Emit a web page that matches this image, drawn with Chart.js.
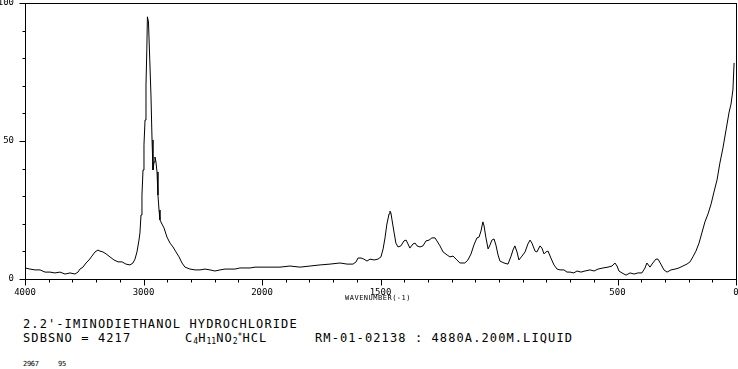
<!DOCTYPE html>
<html>
<head>
<meta charset="utf-8">
<script src="https://cdn.jsdelivr.net/npm/chart.js@4.4.0/dist/chart.umd.min.js"></script>
<style>
  body { margin: 0; background: #fff; }
  #wrap { position: relative; width: 738px; height: 369px; overflow: hidden; background: #fff; }
  #spectrum { position: absolute; left: 0; top: 0; }
  .cap { position: absolute; font-family: 'DejaVu Sans Mono', monospace; font-size: 12px; letter-spacing: 1.1px; color: #000; white-space: pre; line-height: 1; }
  .cap sub { font-size: 8px; letter-spacing: 0; vertical-align: -2px; line-height: 0; }
  .cap sup { font-size: 8px; letter-spacing: 0; vertical-align: 3px; line-height: 0; }
  .small { position: absolute; font-family: 'DejaVu Sans Mono', monospace; font-size: 7px; letter-spacing: -0.3px; color: #000; white-space: pre; line-height: 1; }
  .axis-title { position: absolute; font-family: 'DejaVu Sans Mono', monospace; font-size: 7px; letter-spacing: 0.5px; color: #000; white-space: pre; line-height: 1; transform: translateX(-50%); }
</style>
</head>
<body>
<div id="wrap">
  <canvas id="spectrum" width="738" height="310"></canvas>
  <div class="axis-title" style="left:378px; top:295px;">WAVENUMBER(-1)</div>
  <div class="cap" style="left:23px; top:318px;">2.2'-IMINODIETHANOL HYDROCHLORIDE</div>
  <div class="cap" style="left:23px; top:332px;">SDBSNO = 4217</div>
  <div class="cap" style="left:185px; top:332px;">C<sub>4</sub>H<sub>11</sub>NO<sub>2</sub><sup>*</sup>HCL</div>
  <div class="cap" style="left:315px; top:332px;">RM-01-02138 : 4880A.200M.LIQUID</div>
  <div class="small" style="left:23px; top:361px;">2967</div>
  <div class="small" style="left:58px; top:361px;">95</div>
</div>
<script>
// spectrum (wavenumber cm-1, intensity %)
const wavenumbers = [
  4000, 3958, 3916, 3873, 3831, 3789, 3747, 3705, 3662, 3620, 3578, 3553, 3536, 3511, 3485, 3460,
  3435, 3409, 3384, 3367, 3342, 3316, 3283, 3249, 3215, 3181, 3148, 3114, 3089, 3072, 3055, 3038,
  3030, 3021, 3013, 3004, 2996, 2987, 2979, 2972, 2967, 2958, 2947, 2937, 2928, 2920, 2911, 2903,
  2895, 2886, 2878, 2869, 2861, 2844, 2827, 2802, 2776, 2751, 2726, 2700, 2675, 2650, 2608, 2565,
  2523, 2481, 2439, 2397, 2354, 2312, 2270, 2228, 2186, 2143, 2101, 2059, 2000,
  1966, 1924, 1882, 1840, 1797, 1755, 1713, 1671, 1641, 1616, 1603, 1595, 1582, 1570, 1557, 1544,
  1527, 1511, 1498, 1489, 1481, 1473, 1464, 1460, 1456, 1452, 1443, 1435, 1426, 1414, 1401, 1392,
  1384, 1376, 1363, 1354, 1346, 1333, 1321, 1308, 1295, 1283, 1270, 1262, 1249, 1236, 1219, 1207,
  1194, 1181, 1165, 1144, 1131, 1118, 1106, 1093, 1084, 1076, 1068, 1063, 1055, 1046, 1038, 1030,
  1021, 1013, 1004, 996, 979, 962, 949, 941, 933, 924, 916, 903, 890, 878, 869, 861,
  848, 840, 827, 819, 810, 802, 793, 781, 768, 755, 743, 726, 713, 700, 684, 671,
  654, 637, 616, 599, 582, 561, 540, 523, 511, 502, 494, 481, 464, 447, 430, 414,
  397, 384, 376, 363, 351, 338, 329, 317, 304, 291, 274, 257, 241, 224, 207, 194,
  182, 169, 156, 143, 131, 118, 105, 93, 80, 68, 55, 42, 29, 21, 13, 8
];
const intensity = [
  4.0, 3.6, 3.3, 3.3, 2.5, 2.5, 2.2, 2.5, 1.8, 2.2, 1.8, 2.5, 3.6, 4.3, 5.8, 6.9,
  8.3, 9.8, 10.5, 10.1, 9.8, 9.1, 8.0, 6.9, 6.2, 6.2, 5.4, 5.1, 5.8, 7.2, 9.8, 14.1,
  16.7, 23.2, 30.4, 39.5, 48.6, 57.6, 70.3, 83.0, 95.0, 93.1, 79.3, 66.7, 50.4, 39.5, 42.4, 44.2,
  42.4, 38.8, 30.4, 25.0, 21.4, 19.9, 18.5, 15.2, 13.0, 11.6, 9.8, 8.0, 5.8, 4.3, 3.6, 3.3,
  3.3, 3.6, 3.3, 2.9, 3.3, 3.6, 3.6, 3.6, 4.0, 4.0, 4.0, 4.3, 4.3,
  4.3, 4.3, 4.7, 4.3, 4.7, 5.1, 5.4, 5.8, 5.4, 5.4, 6.2, 7.6, 7.6, 7.2, 6.5, 7.2,
  6.9, 7.2, 8.0, 10.9, 14.9, 19.9, 23.6, 24.6, 23.9, 21.7, 17.0, 13.0, 11.6, 12.0, 13.8, 14.1,
  12.7, 11.2, 12.7, 13.0, 12.0, 11.6, 12.0, 13.8, 14.1, 14.9, 14.9, 13.8, 12.0, 9.8, 8.7, 8.0,
  8.3, 7.2, 5.8, 5.8, 6.9, 9.1, 12.3, 14.9, 15.2, 17.4, 20.7, 19.2, 14.9, 10.9, 12.3, 14.1,
  14.5, 12.3, 8.7, 6.5, 5.8, 5.4, 8.3, 10.5, 12.0, 9.8, 6.9, 8.3, 9.8, 12.7, 14.1, 13.0,
  10.1, 9.8, 12.0, 11.2, 9.1, 9.8, 10.1, 7.6, 5.1, 3.6, 3.3, 3.3, 2.5, 2.5, 2.2, 2.9,
  2.5, 2.9, 3.3, 2.9, 3.6, 4.0, 4.3, 4.7, 5.8, 4.7, 2.9, 2.2, 1.4, 2.2, 1.8, 2.2,
  2.2, 4.0, 5.8, 4.3, 5.8, 7.2, 7.2, 5.4, 3.3, 2.5, 3.3, 3.6, 4.0, 4.7, 5.4, 6.2,
  8.0, 10.1, 13.0, 17.0, 20.7, 23.6, 27.2, 31.5, 35.9, 42.0, 47.5, 54.0, 60.5, 63.4, 68.5, 78.3
];

const xTickLabels = [4000, 3000, 2000, 1500, 500, 0];
const yTickLabels = [0, 50, 100];

// the axis is compressed above 2000: 1 unit there = 2 units below 2000
function toAxis(w) {
  return w >= 2000 ? 4000 - w : 2000 + 2 * (2000 - w);
}
function fromAxis(v) {
  return v <= 2000 ? 4000 - v : 2000 - (v - 2000) / 2;
}

const xTicks = [];
for (let w = 4000; w >= 2000; w -= 200) xTicks.push(w);
for (let w = 1900; w >= 0; w -= 100) xTicks.push(w);

const points = wavenumbers.map((w, i) => ({ x: toAxis(w), y: intensity[i] }));

const frameAndTicks = {
  id: 'frameAndTicks',
  afterDraw(chart) {
    const c = chart.ctx;
    const a = chart.chartArea;
    const xs = chart.scales.x;
    const ys = chart.scales.y;
    c.save();
    c.strokeStyle = '#000';
    c.lineWidth = 1;
    c.strokeRect(Math.round(a.left) + 0.5, Math.round(a.top) + 0.5,
      Math.round(a.right - a.left), Math.round(a.bottom - a.top));
    c.beginPath();
    const bottom = Math.round(a.bottom) + 0.5;
    xTicks.forEach(w => {
      const px = Math.round(xs.getPixelForValue(toAxis(w))) + 0.5;
      const len = xTickLabels.includes(w) ? 6 : 3;
      c.moveTo(px, bottom);
      c.lineTo(px, bottom + len);
    });
    const left = Math.round(a.left) + 0.5;
    for (let v = 0; v <= 100; v += 10) {
      const py = Math.round(ys.getPixelForValue(v)) + 0.5;
      const len = yTickLabels.includes(v) ? 6 : 3;
      c.moveTo(left, py);
      c.lineTo(left - len, py);
    }
    c.stroke();
    c.restore();
  }
};

const tickFont = { family: "'DejaVu Sans Mono', monospace", size: 9 };

const ctx = document.getElementById('spectrum').getContext('2d');
const chart = new Chart(ctx, {
  type: 'line',
  data: {
    datasets: [{
      data: points,
      borderColor: '#000',
      borderWidth: 1,
      pointRadius: 0,
      tension: 0,
      fill: false
    }]
  },
  options: {
    responsive: false,
    animation: false,
    events: [],
    layout: { padding: { top: 3, right: 2, left: 0, bottom: 0 } },
    plugins: {
      legend: { display: false },
      tooltip: { enabled: false }
    },
    scales: {
      x: {
        type: 'linear',
        min: 0,
        max: 6000,
        afterBuildTicks: scale => {
          scale.ticks = xTicks.map(w => ({ value: toAxis(w) }));
        },
        afterFit: scale => {
          scale.height = 31;
          scale.paddingLeft = 0;
          scale.paddingRight = 0;
        },
        grid: { display: false, drawTicks: false },
        border: { display: false },
        ticks: {
          autoSkip: false,
          maxRotation: 0,
          padding: 8,
          color: '#000',
          font: tickFont,
          callback: v => {
            const w = Math.round(fromAxis(v));
            return xTickLabels.includes(w) ? String(w) : '';
          }
        }
      },
      y: {
        min: 0,
        max: 100,
        afterFit: scale => {
          scale.width = 25;
          scale.paddingTop = 0;
          scale.paddingBottom = 0;
        },
        grid: { display: false, drawTicks: false },
        border: { display: false },
        ticks: {
          stepSize: 10,
          padding: 11,
          color: '#000',
          font: tickFont,
          callback: v => yTickLabels.includes(v) ? String(v) : ''
        }
      }
    }
  },
  plugins: [frameAndTicks]
});
</script>
</body>
</html>
